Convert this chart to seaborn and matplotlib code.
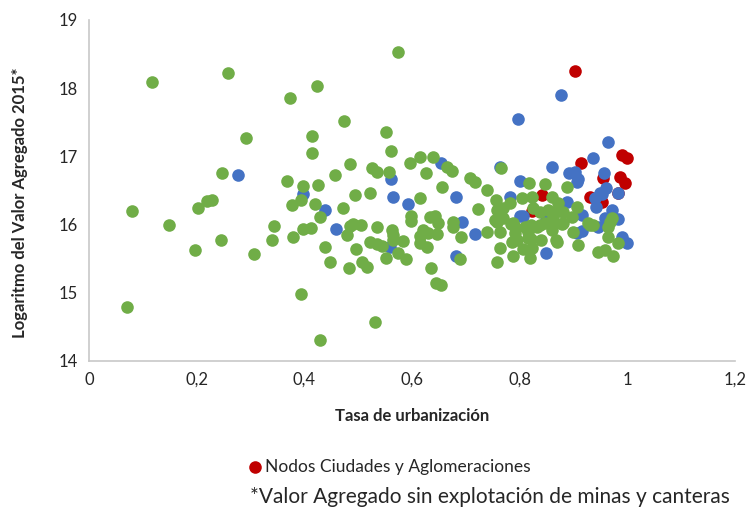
import matplotlib
matplotlib.use("Agg")
import matplotlib.pyplot as plt
import seaborn as sns
import pandas as pd

# Tasa de urbanización (x) y logaritmo del valor agregado 2015 (y)
nodos_x = [0.902, 0.914, 0.990, 0.999, 0.955, 0.986, 0.995, 0.930, 0.953,
           0.841, 0.823, 0.982, 0.949]
nodos_y = [18.25, 16.90, 17.02, 16.98, 16.68, 16.70, 16.61, 16.40, 16.33,
           16.43, 16.20, 16.46, 16.35]

azul_x = [0.876, 0.797, 0.964, 0.936, 0.860, 0.654, 0.763, 0.891, 0.902,
          0.908, 0.956, 0.960, 0.949, 0.982, 0.940, 0.941, 0.971, 0.958,
          0.982, 0.945, 0.999, 0.990, 0.800, 0.782, 0.800, 0.806, 0.849,
          0.849, 0.717, 0.693, 0.682, 0.682, 0.592, 0.565, 0.561, 0.559,
          0.459, 0.438, 0.397, 0.277, 0.906, 0.916, 0.906, 0.888, 0.953,
          0.915]
azul_y = [17.90, 17.55, 17.21, 16.98, 16.84, 16.90, 16.84, 16.76, 16.77,
          16.67, 16.76, 16.54, 16.46, 16.46, 16.39, 16.26, 16.21, 16.10,
          16.08, 15.96, 15.73, 15.82, 16.64, 16.40, 16.13, 16.13, 16.07,
          15.58, 15.86, 16.04, 16.40, 15.54, 16.30, 16.40, 16.67, 15.67,
          15.94, 16.21, 16.45, 16.73, 15.88, 16.14, 16.62, 16.33, 16.44,
          15.90]

verde_x = [0.117, 0.258, 0.574, 0.423, 0.373, 0.474, 0.292, 0.414, 0.414,
           0.552, 0.561, 0.596, 0.615, 0.639, 0.485, 0.457, 0.526, 0.535,
           0.557, 0.247, 0.368, 0.397, 0.425, 0.494, 0.522, 0.080, 0.149,
           0.202, 0.219, 0.228, 0.197, 0.245, 0.306, 0.344, 0.340, 0.379,
           0.377, 0.394, 0.420, 0.429, 0.472, 0.397, 0.412, 0.479, 0.485,
           0.490, 0.505, 0.535, 0.563, 0.565, 0.583, 0.598, 0.598, 0.615,
           0.522, 0.535, 0.544, 0.438, 0.496, 0.574, 0.589, 0.552, 0.448,
           0.483, 0.507, 0.516, 0.615, 0.071, 0.394, 0.531, 0.429, 0.665,
           0.674, 0.626, 0.708, 0.717, 0.656, 0.722, 0.633, 0.643, 0.648,
           0.676, 0.676, 0.691, 0.620, 0.615, 0.630, 0.646, 0.628, 0.689,
           0.635, 0.644, 0.654, 0.765, 0.739, 0.817, 0.847, 0.860, 0.756,
           0.804, 0.823, 0.782, 0.739, 0.763, 0.769, 0.758, 0.754, 0.791,
           0.810, 0.832, 0.847, 0.862, 0.785, 0.795, 0.815, 0.823, 0.763,
           0.758, 0.787, 0.819, 0.867, 0.888, 0.930, 0.964, 0.964, 0.982,
           0.945, 0.958, 0.973, 0.908, 0.869, 0.906, 0.971, 0.769, 0.825,
           0.838, 0.852, 0.871, 0.880, 0.897, 0.758, 0.787, 0.791, 0.860,
           0.880, 0.899, 0.927, 0.565, 0.763, 0.784, 0.821, 0.838, 0.815,
           0.821, 0.839, 0.806, 0.865, 0.862, 0.878, 0.967, 0.936]
verde_y = [18.09, 18.22, 18.53, 18.03, 17.86, 17.52, 17.27, 17.30, 17.05,
           17.36, 17.08, 16.90, 16.99, 16.99, 16.89, 16.73, 16.83, 16.77,
           16.77, 16.76, 16.64, 16.57, 16.58, 16.43, 16.46, 16.20, 15.99,
           16.24, 16.35, 16.36, 15.63, 15.77, 15.57, 15.97, 15.77, 15.82,
           16.29, 16.36, 16.30, 16.11, 16.24, 15.94, 15.95, 15.85, 15.98,
           16.01, 15.99, 15.96, 15.92, 15.85, 15.76, 16.13, 16.05, 16.39,
           15.74, 15.72, 15.69, 15.67, 15.64, 15.58, 15.50, 15.51, 15.45,
           15.36, 15.45, 15.38, 15.73, 14.79, 14.98, 14.57, 14.31, 16.84,
           16.79, 16.76, 16.68, 16.62, 16.55, 16.23, 16.11, 16.13, 16.02,
           16.04, 15.96, 15.82, 15.92, 15.83, 15.88, 15.86, 15.67, 15.50,
           15.36, 15.14, 15.11, 16.83, 16.51, 16.61, 16.60, 16.40, 16.36,
           16.39, 16.40, 16.32, 15.89, 15.89, 16.10, 16.21, 16.07, 15.96,
           15.96, 15.96, 16.02, 16.11, 15.74, 15.77, 15.80, 15.66, 15.66,
           15.45, 15.54, 15.51, 15.77, 16.55, 15.99, 15.96, 15.82, 15.73,
           15.60, 15.63, 15.54, 15.70, 15.74, 16.26, 16.10, 16.24, 16.24,
           16.18, 16.21, 16.32, 16.18, 16.11, 16.04, 16.02, 15.88, 15.92,
           16.02, 15.89, 16.02, 15.77, 16.11, 16.01, 15.99, 15.99, 15.89,
           15.79, 15.77, 15.64, 16.18, 16.01, 16.01, 16.04, 15.99]

x_ticks = [0, 0.2, 0.4, 0.6, 0.8, 1.0, 1.2]
x_labels = ["0", "0,2", "0,4", "0,6", "0,8", "1", "1,2"]
y_ticks = [14, 15, 16, 17, 18, 19]
y_labels = ["14", "15", "16", "17", "18", "19"]

sns.set_style("white")
plt.rcParams["font.family"] = ["Lato", "DejaVu Sans"]

fig = plt.figure(figsize=(7.47, 5.11), dpi=100)
ax = fig.add_axes([0.119, 0.294, 0.865, 0.667])

sns.scatterplot(x=nodos_x, y=nodos_y, color="#C00000", s=82, linewidth=0,
                label="Nodos Ciudades y Aglomeraciones", ax=ax, zorder=2)
sns.scatterplot(x=azul_x, y=azul_y, color="#4472C4", s=82, linewidth=0,
                ax=ax, zorder=3)
sns.scatterplot(x=verde_x, y=verde_y, color="#70AD47", s=82, linewidth=0,
                ax=ax, zorder=4)

ax.set_xlim(0, 1.2)
ax.set_ylim(14, 19)
ax.set_xticks(x_ticks)
ax.set_xticklabels(x_labels, fontsize=12)
ax.set_yticks(y_ticks)
ax.set_yticklabels(y_labels, fontsize=12)
ax.tick_params(length=0, pad=8)
ax.set_xlabel("")
ax.set_ylabel("")

for side in ["top", "right"]:
    ax.spines[side].set_visible(False)
for side in ["left", "bottom"]:
    ax.spines[side].set_color("#C8C8C8")
    ax.spines[side].set_linewidth(1.2)

fig.text(412 / 747, 1 - 416 / 511, "Tasa de urbanización", ha="center",
         va="center", fontsize=12, fontweight="bold")
fig.text(20 / 747, 1 - 203 / 511, "Logaritmo del Valor Agregado 2015*",
         ha="center", va="center", rotation=90, fontsize=12,
         fontweight="bold")

ax.get_legend().remove()
handles, labels = ax.get_legend_handles_labels()
fig.legend(handles[:1], labels[:1], loc="center left",
           bbox_to_anchor=(248 / 747, 1 - 467 / 511), frameon=False,
           fontsize=12.5, handletextpad=0.2, handlelength=0.8,
           borderpad=0, borderaxespad=0)

fig.text(250 / 747, 1 - 497 / 511,
         "*Valor Agregado sin explotación de minas y canteras",
         ha="left", va="center", fontsize=15)

fig.savefig("out.png", dpi=100)
